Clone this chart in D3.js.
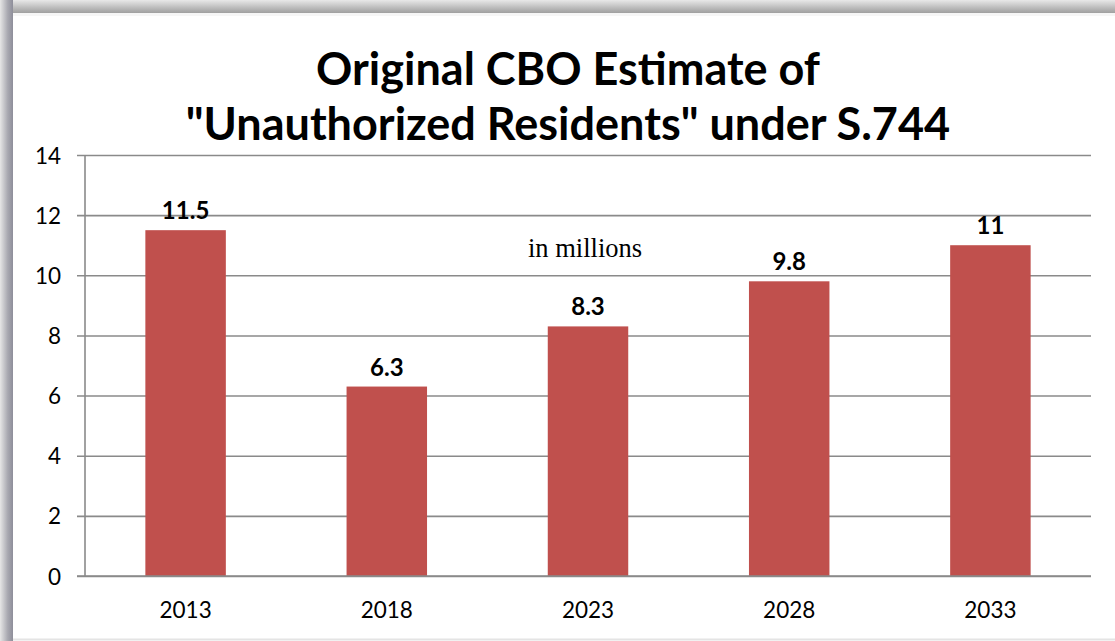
<!DOCTYPE html>
<html>
<head>
<meta charset="utf-8">
<script src="https://cdn.jsdelivr.net/npm/d3@7"></script>
<style>
  html, body { margin: 0; padding: 0; background: #fff; }
  svg { display: block; }
</style>
</head>
<body>
<svg id="chart" width="1115" height="641"></svg>
<script>
const categories = ["2013", "2018", "2023", "2028", "2033"];
const values = [11.5, 6.3, 8.3, 9.8, 11];
const valueLabels = ["11.5", "6.3", "8.3", "9.8", "11"];
const yTicks = [0, 2, 4, 6, 8, 10, 12, 14];
const titleLines = ["Original CBO Estimate of", "\"Unauthorized Residents\" under S.744"];
const subtitle = "in millions";

(function () {
const W = 1115, H = 641;
const svg = d3.select("#chart");
const defs = svg.append("defs");

// frame shadow
const gl = defs.append("linearGradient").attr("id", "gLeft").attr("x1", 0).attr("x2", 1).attr("y1", 0).attr("y2", 0);
gl.append("stop").attr("offset", 0).attr("stop-color", "#e6e6e6");
gl.append("stop").attr("offset", 0.6).attr("stop-color", "#a8a8b0");
gl.append("stop").attr("offset", 1).attr("stop-color", "#8e8e9a");
const gt = defs.append("linearGradient").attr("id", "gTop").attr("x1", 0).attr("x2", 0).attr("y1", 0).attr("y2", 1);
gt.append("stop").attr("offset", 0).attr("stop-color", "#e8e8e8");
gt.append("stop").attr("offset", 0.7).attr("stop-color", "#b4b4b4");
gt.append("stop").attr("offset", 1).attr("stop-color", "#a0a0a0");

svg.append("rect").attr("x", 0).attr("y", 0).attr("width", W).attr("height", H).attr("fill", "#fff");
svg.append("rect").attr("x", 0).attr("y", 0).attr("width", W).attr("height", 13).attr("fill", "url(#gTop)");
svg.append("rect").attr("x", 0).attr("y", 0).attr("width", 13).attr("height", H).attr("fill", "url(#gLeft)");
svg.append("rect").attr("x", 13).attr("y", 13).attr("width", W - 13).attr("height", 3).attr("fill", "#f6f6f6");
svg.append("line").attr("x1", 13).attr("x2", W).attr("y1", 639.5).attr("y2", 639.5).attr("stroke", "#e4e4e4").attr("stroke-width", 2);

const font = "Lato, Carlito, 'Liberation Sans', sans-serif";

// title
svg.append("g").selectAll("text").data(titleLines).join("text")
  .attr("x", 568)
  .attr("y", (d, i) => 85 + i * 55)
  .attr("text-anchor", "middle")
  .attr("font-family", font)
  .attr("font-weight", "bold")
  .attr("font-size", 45)
  .attr("fill", "#000")
  .text(d => d);

const pL = 85, pR = 1091, pT = 155, pB = 576;
const x = d3.scaleBand().domain(categories).range([pL, pR]).paddingInner(0.6).paddingOuter(0.3);
const y = d3.scaleLinear().domain([0, 14]).range([pB, pT]);

// gridlines + y ticks
const yAxis = d3.axisLeft(y).tickValues(yTicks).tickSize(0).tickPadding(0).tickFormat(d3.format("d"));
const gy = svg.append("g").attr("transform", `translate(${pL},0)`).call(yAxis);
gy.select(".domain").remove();
gy.selectAll(".tick line").attr("x1", -8).attr("x2", pR - pL).attr("stroke", "#8a8a8a").attr("stroke-width", 1.6);
gy.selectAll(".tick text").attr("x", -24).attr("dy", "0.36em").attr("font-family", font).attr("font-size", 22.5).attr("fill", "#000");
svg.append("line").attr("x1", pL).attr("x2", pL).attr("y1", pT).attr("y2", pB).attr("stroke", "#8a8a8a").attr("stroke-width", 1.6);

// bars
svg.append("g").selectAll("rect").data(values).join("rect")
  .attr("x", (d, i) => x(categories[i]))
  .attr("y", d => y(d))
  .attr("width", x.bandwidth())
  .attr("height", d => y(0) - y(d))
  .attr("fill", "#c0504d");

// redraw baseline on top
svg.append("line").attr("x1", pL - 8).attr("x2", pR).attr("y1", y(0)).attr("y2", y(0)).attr("stroke", "#8a8a8a").attr("stroke-width", 1.6);

// value labels
svg.append("g").selectAll("text").data(values).join("text")
  .attr("x", (d, i) => x(categories[i]) + x.bandwidth() / 2)
  .attr("y", d => y(d) - 11)
  .attr("text-anchor", "middle")
  .attr("font-family", font)
  .attr("font-weight", "bold")
  .attr("font-size", 24)
  .attr("fill", "#000")
  .text((d, i) => valueLabels[i]);

// x axis labels
const xAxis = d3.axisBottom(x).tickSize(0).tickPadding(0);
const gx = svg.append("g").attr("transform", `translate(0,${pB})`).call(xAxis);
gx.select(".domain").remove();
gx.selectAll(".tick text").attr("y", 42).attr("dy", 0).attr("font-family", font).attr("font-size", 22.5).attr("fill", "#000");

// subtitle
svg.append("text").attr("x", 585).attr("y", 257).attr("text-anchor", "middle")
  .attr("font-family", "'Liberation Serif', 'Times New Roman', serif").attr("font-size", 26.5).attr("fill", "#000")
  .text(subtitle);
})();
</script>
</body>
</html>
